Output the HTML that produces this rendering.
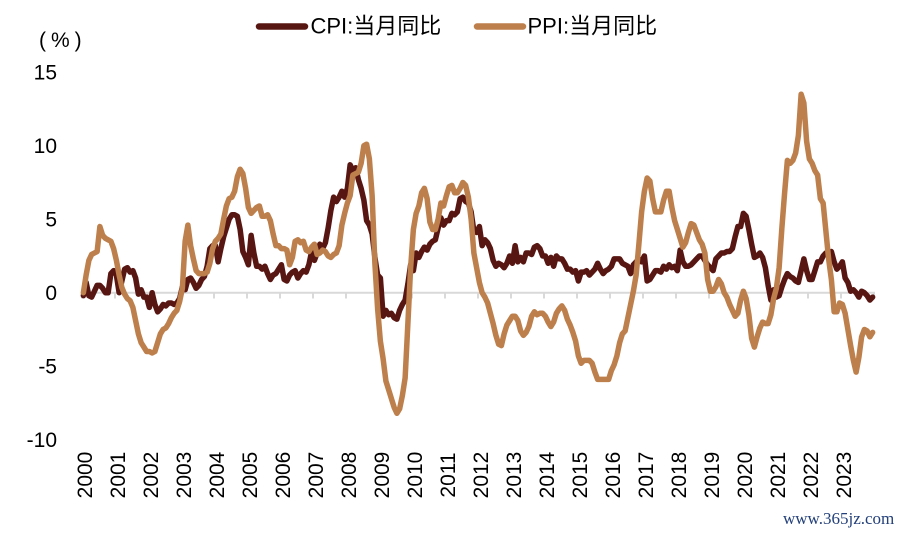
<!DOCTYPE html>
<html>
<head>
<meta charset="utf-8">
<style>
  html,body{margin:0;padding:0;background:#fff;}
  svg{display:block;}
  text{font-family:"Liberation Sans","Noto Sans CJK SC",sans-serif;fill:#000;}
</style>
</head>
<body>
<svg width="906" height="534" viewBox="0 0 906 534" xmlns="http://www.w3.org/2000/svg">
  <rect x="0" y="0" width="906" height="534" fill="#fff"/>

  <!-- Legend -->
  <line x1="259" y1="26.5" x2="305" y2="26.5" stroke="#581612" stroke-width="6.5" stroke-linecap="round"/>
  <text x="310.5" y="33.5" font-size="22">CPI:当月同比</text>
  <line x1="477" y1="26.5" x2="523" y2="26.5" stroke="#bd7f4b" stroke-width="6.5" stroke-linecap="round"/>
  <text x="527.5" y="33.5" font-size="22">PPI:当月同比</text>

  <!-- unit -->
  <text x="39" y="47" font-size="21" letter-spacing="5">(%)</text>

  <!-- Y tick labels -->
  <g font-size="21" text-anchor="end">
    <text x="57" y="79.7">15</text>
    <text x="57" y="153.2">10</text>
    <text x="57" y="226.7">5</text>
    <text x="57" y="300.2">0</text>
    <text x="57" y="373.7">-5</text>
    <text x="57" y="447.2">-10</text>
  </g>

  <!-- X axis -->
  <line x1="82" y1="292.7" x2="875" y2="292.7" stroke="#d9d9d9" stroke-width="2"/>
  <g stroke="#d9d9d9" stroke-width="2">
    <line x1="82" y1="292.7" x2="82" y2="298.5"/>
    <line x1="115" y1="292.7" x2="115" y2="298.5"/>
    <line x1="148" y1="292.7" x2="148" y2="298.5"/>
    <line x1="181" y1="292.7" x2="181" y2="298.5"/>
    <line x1="214" y1="292.7" x2="214" y2="298.5"/>
    <line x1="247" y1="292.7" x2="247" y2="298.5"/>
    <line x1="280" y1="292.7" x2="280" y2="298.5"/>
    <line x1="313" y1="292.7" x2="313" y2="298.5"/>
    <line x1="346" y1="292.7" x2="346" y2="298.5"/>
    <line x1="379" y1="292.7" x2="379" y2="298.5"/>
    <line x1="412" y1="292.7" x2="412" y2="298.5"/>
    <line x1="445" y1="292.7" x2="445" y2="298.5"/>
    <line x1="478" y1="292.7" x2="478" y2="298.5"/>
    <line x1="511" y1="292.7" x2="511" y2="298.5"/>
    <line x1="544" y1="292.7" x2="544" y2="298.5"/>
    <line x1="577" y1="292.7" x2="577" y2="298.5"/>
    <line x1="610" y1="292.7" x2="610" y2="298.5"/>
    <line x1="643" y1="292.7" x2="643" y2="298.5"/>
    <line x1="676" y1="292.7" x2="676" y2="298.5"/>
    <line x1="709" y1="292.7" x2="709" y2="298.5"/>
    <line x1="742" y1="292.7" x2="742" y2="298.5"/>
    <line x1="775" y1="292.7" x2="775" y2="298.5"/>
    <line x1="808" y1="292.7" x2="808" y2="298.5"/>
    <line x1="841" y1="292.7" x2="841" y2="298.5"/>
    <line x1="874" y1="292.7" x2="874" y2="298.5"/>
  </g>

  <!-- X labels (rotated) -->
  <g font-size="21" text-anchor="middle">
    <text transform="translate(92,475) rotate(-90)">2000</text>
    <text transform="translate(125,475) rotate(-90)">2001</text>
    <text transform="translate(158,475) rotate(-90)">2002</text>
    <text transform="translate(191,475) rotate(-90)">2003</text>
    <text transform="translate(224,475) rotate(-90)">2004</text>
    <text transform="translate(257,475) rotate(-90)">2005</text>
    <text transform="translate(290,475) rotate(-90)">2006</text>
    <text transform="translate(323,475) rotate(-90)">2007</text>
    <text transform="translate(356,475) rotate(-90)">2008</text>
    <text transform="translate(389,475) rotate(-90)">2009</text>
    <text transform="translate(422,475) rotate(-90)">2010</text>
    <text transform="translate(455,475) rotate(-90)">2011</text>
    <text transform="translate(488,475) rotate(-90)">2012</text>
    <text transform="translate(521,475) rotate(-90)">2013</text>
    <text transform="translate(554,475) rotate(-90)">2014</text>
    <text transform="translate(587,475) rotate(-90)">2015</text>
    <text transform="translate(620,475) rotate(-90)">2016</text>
    <text transform="translate(653,475) rotate(-90)">2017</text>
    <text transform="translate(686,475) rotate(-90)">2018</text>
    <text transform="translate(719,475) rotate(-90)">2019</text>
    <text transform="translate(752,475) rotate(-90)">2020</text>
    <text transform="translate(785,475) rotate(-90)">2021</text>
    <text transform="translate(818,475) rotate(-90)">2022</text>
    <text transform="translate(851,475) rotate(-90)">2023</text>
  </g>

  <!-- Series -->
  <g transform="translate(83.375,292.7) scale(2.75,-14.7)">
    <polyline fill="none" stroke="#581612" stroke-width="5.5" stroke-linejoin="round" stroke-linecap="round" vector-effect="non-scaling-stroke"
      points="0,-0.2 1,0.7 2,-0.2 3,-0.3 4,0.1 5,0.5 6,0.5 7,0.3 8,0 9,0 10,1.3 11,1.5
12,1.2 13,0 14,0.8 15,1.6 16,1.7 17,1.4 18,1.5 19,1 20,-0.1 21,0.2 22,-0.3 23,-0.3
24,-1 25,0 26,-0.8 27,-1.3 28,-1.1 29,-0.8 30,-0.9 31,-0.7 32,-0.7 33,-0.8 34,-0.7 35,-0.4
36,0.4 37,0.2 38,0.9 39,1 40,0.7 41,0.3 42,0.5 43,0.9 44,1.1 45,1.8 46,3 47,3.2
48,3.2 49,2.1 50,3 51,3.8 52,4.4 53,5 54,5.3 55,5.3 56,5.2 57,4.3 58,2.8 59,2.4
60,1.9 61,3.9 62,2.7 63,1.8 64,1.8 65,1.6 66,1.8 67,1.3 68,0.9 69,1.2 70,1.3 71,1.6
72,1.9 73,0.9 74,0.8 75,1.2 76,1.4 77,1.5 78,1 79,1.3 80,1.5 81,1.4 82,1.9 83,2.8
84,2.2 85,2.7 86,3.3 87,3 88,3.4 89,4.4 90,5.6 91,6.5 92,6.2 93,6.5 94,6.9 95,6.5
96,7.1 97,8.7 98,8.3 99,8.5 100,7.7 101,7.1 102,6.3 103,4.9 104,4.6 105,4 106,2.4 107,1.2
108,1 109,-1.6 110,-1.2 111,-1.5 112,-1.4 113,-1.7 114,-1.8 115,-1.2 116,-0.8 117,-0.5 118,0.6 119,1.9
120,1.5 121,2.7 122,2.4 123,2.8 124,3.1 125,2.9 126,3.3 127,3.5 128,3.6 129,4.4 130,5.1 131,4.6
132,4.9 133,4.9 134,5.4 135,5.3 136,5.5 137,6.4 138,6.5 139,6.2 140,6.1 141,5.5 142,4.2 143,4.1
144,4.5 145,3.2 146,3.6 147,3.4 148,3 149,2.2 150,1.8 151,2 152,1.9 153,1.7 154,2 155,2.5
156,2 157,3.2 158,2.1 159,2.4 160,2.1 161,2.7 162,2.7 163,2.6 164,3.1 165,3.2 166,3 167,2.5
168,2.5 169,2 170,2.4 171,1.8 172,2.5 173,2.3 174,2.3 175,2 176,1.6 177,1.6 178,1.4 179,1.5
180,0.8 181,1.4 182,1.4 183,1.5 184,1.2 185,1.4 186,1.6 187,2 188,1.6 189,1.3 190,1.5 191,1.6
192,1.8 193,2.3 194,2.3 195,2.3 196,2 197,1.9 198,1.8 199,1.3 200,1.9 201,2.1 202,2.3 203,2.1
204,2.5 205,0.8 206,0.9 207,1.2 208,1.5 209,1.5 210,1.4 211,1.8 212,1.6 213,1.9 214,1.7 215,1.8
216,1.5 217,2.9 218,2.1 219,1.8 220,1.8 221,1.9 222,2.1 223,2.3 224,2.5 225,2.5 226,2.2 227,1.9
228,1.7 229,1.5 230,2.3 231,2.5 232,2.7 233,2.7 234,2.8 235,2.8 236,3 237,3.8 238,4.5 239,4.5
240,5.4 241,5.2 242,4.3 243,3.3 244,2.4 245,2.5 246,2.7 247,2.4 248,1.7 249,0.5 250,-0.5 251,0.2
252,-0.3 253,-0.2 254,0.4 255,0.9 256,1.3 257,1.1 258,1 259,0.8 260,0.7 261,1.5 262,2.3 263,1.5
264,0.9 265,0.9 266,1.5 267,2.1 268,2.1 269,2.5 270,2.7 271,2.5 272,2.8 273,2.1 274,1.6 275,1.8
276,2.1 277,1 278,0.7 279,0.1 280,0.2 281,0 282,-0.3 283,0.1 284,0 285,-0.2 286,-0.5 287,-0.3"/>
    <polyline fill="none" stroke="#bd7f4b" stroke-width="5.5" stroke-linejoin="round" stroke-linecap="round" vector-effect="non-scaling-stroke"
      points="0,0 1,1.2 2,2.2 3,2.6 4,2.7 5,2.8 6,4.5 7,3.9 8,3.7 9,3.6 10,3.5 11,3
12,2.2 13,1.2 14,0.35 15,-0.1 16,-0.4 17,-0.55 18,-1 19,-1.9 20,-2.8 21,-3.4 22,-3.7 23,-4
24,-4 25,-4.1 26,-4 27,-3.4 28,-2.8 29,-2.5 30,-2.4 31,-2.1 32,-1.7 33,-1.4 34,-1.2 35,-0.6
36,0.3 37,3.5 38,4.6 39,3.2 40,2.3 41,1.5 42,1.3 43,1.3 44,1.3 45,1.4 46,2 47,3
48,3.5 49,3.7 50,4 51,5 52,5.9 53,6.4 54,6.5 55,6.9 56,7.9 57,8.4 58,8.1 59,7.1
60,5.8 61,5.4 62,5.6 63,5.8 64,5.9 65,5.2 66,5.2 67,5.3 68,4.9 69,4 70,3.2 71,3.2
72,3 73,3 74,2.9 75,1.9 76,2.4 77,3.5 78,3.6 79,3.4 80,3.5 81,2.9 82,2.8 83,3.1
84,3.3 85,2.6 86,2.7 87,2.9 88,2.8 89,2.5 90,2.4 91,2.6 92,2.7 93,3.2 94,4.6 95,5.4
96,6.1 97,6.6 98,8 99,8.1 100,8.2 101,8.8 102,10 103,10.1 104,9.1 105,6.6 106,2 107,-1.1
108,-3.3 109,-4.5 110,-6 111,-6.6 112,-7.2 113,-7.8 114,-8.2 115,-7.9 116,-7 117,-5.8 118,-2.1 119,1.7
120,4.3 121,5.4 122,5.9 123,6.8 124,7.1 125,6.4 126,4.8 127,4.3 128,4.3 129,5 130,6.1 131,5.9
132,6.6 133,7.2 134,7.3 135,6.8 136,6.8 137,7.1 138,7.5 139,7.3 140,6.5 141,5 142,2.7 143,1.7
144,0.7 145,0 146,-0.3 147,-0.7 148,-1.4 149,-2.1 150,-2.9 151,-3.5 152,-3.6 153,-2.8 154,-2.2 155,-1.9
156,-1.6 157,-1.6 158,-1.9 159,-2.6 160,-2.9 161,-2.7 162,-2.3 163,-1.6 164,-1.3 165,-1.5 166,-1.4 167,-1.4
168,-1.6 169,-2 170,-2.3 171,-2 172,-1.4 173,-1.1 174,-0.9 175,-1.2 176,-1.8 177,-2.2 178,-2.7 179,-3.3
180,-4.3 181,-4.8 182,-4.6 183,-4.6 184,-4.6 185,-4.8 186,-5.4 187,-5.9 188,-5.9 189,-5.9 190,-5.9 191,-5.9
192,-5.3 193,-4.9 194,-4.3 195,-3.4 196,-2.8 197,-2.6 198,-1.7 199,-0.8 200,0.1 201,1.2 202,3.3 203,5.5
204,6.9 205,7.8 206,7.6 207,6.4 208,5.5 209,5.5 210,5.5 211,6.3 212,6.9 213,6.9 214,5.8 215,4.9
216,4.3 217,3.7 218,3.1 219,3.4 220,4.1 221,4.7 222,4.6 223,4.1 224,3.6 225,3.3 226,2.7 227,0.9
228,0.1 229,0.1 230,0.4 231,0.9 232,0.6 233,0 234,-0.3 235,-0.8 236,-1.2 237,-1.6 238,-1.4 239,-0.5
240,0.1 241,-0.4 242,-1.5 243,-3.1 244,-3.7 245,-3 246,-2.4 247,-2 248,-2.1 249,-2.1 250,-1.5 251,-0.4
252,0.3 253,1.7 254,4.4 255,6.8 256,9 257,8.8 258,9 259,9.5 260,10.7 261,13.5 262,12.9 263,10.3
264,9.1 265,8.8 266,8.3 267,8 268,6.4 269,6.1 270,4.2 271,2.3 272,0.9 273,-1.3 274,-1.3 275,-0.7
276,-0.8 277,-1.4 278,-2.5 279,-3.6 280,-4.6 281,-5.4 282,-4.4 283,-3 284,-2.5 285,-2.6 286,-3 287,-2.7"/>
  </g>

  <!-- watermark -->
  <text x="783" y="524" font-size="17" style="font-family:'Liberation Serif',serif;fill:#23407a;">www.365jz.com</text>
</svg>
</body>
</html>
